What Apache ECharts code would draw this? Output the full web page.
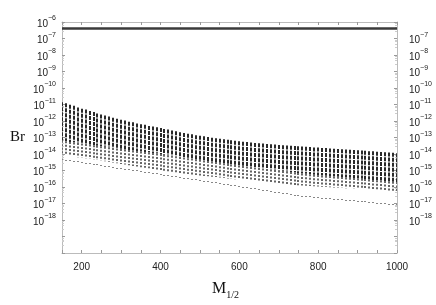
<!DOCTYPE html>
<html>
<head>
<meta charset="utf-8">
<script src="https://cdn.jsdelivr.net/npm/echarts@6/dist/echarts.min.js"></script>
<style>
html,body{margin:0;padding:0;background:#fff;}
#c{width:436px;height:305px;}
</style>
</head>
<body>
<div id="c"></div>
<script>
// M_1/2 sample points (GeV)
var mHalf = [150,160,170,180,190,200,210,220,230,240,250,260,270,280,290,300,310,320,330,340,350,360,370,380,390,400,410,420,430,440,450,460,470,480,490,500,510,520,530,540,550,560,570,580,590,600,610,620,630,640,650,660,670,680,690,700,710,720,730,740,750,760,770,780,790,800,810,820,830,840,850,860,870,880,890,900,910,920,930,940,950,960,970,980,990,1000];
// log10(Br): upper edge of scan points
var logTop = [-10.87,-10.93,-11.02,-11.08,-11.18,-11.25,-11.31,-11.40,-11.45,-11.55,-11.60,-11.66,-11.73,-11.80,-11.86,-11.92,-11.97,-12.04,-12.08,-12.15,-12.20,-12.23,-12.30,-12.34,-12.38,-12.42,-12.48,-12.52,-12.58,-12.62,-12.68,-12.72,-12.77,-12.81,-12.86,-12.90,-12.93,-12.97,-13.01,-13.04,-13.08,-13.11,-13.14,-13.17,-13.20,-13.23,-13.25,-13.28,-13.30,-13.33,-13.35,-13.37,-13.39,-13.41,-13.43,-13.45,-13.47,-13.48,-13.50,-13.52,-13.53,-13.55,-13.56,-13.58,-13.60,-13.61,-13.63,-13.64,-13.66,-13.68,-13.69,-13.71,-13.73,-13.74,-13.76,-13.78,-13.79,-13.81,-13.83,-13.84,-13.86,-13.88,-13.90,-13.91,-13.93,-13.95];
// log10(Br): lower edge of dense band
var logMid = [-13.20,-13.23,-13.27,-13.30,-13.34,-13.37,-13.40,-13.43,-13.47,-13.50,-13.53,-13.56,-13.59,-13.63,-13.66,-13.69,-13.72,-13.75,-13.79,-13.82,-13.85,-13.88,-13.91,-13.94,-13.97,-14.00,-14.04,-14.07,-14.11,-14.14,-14.18,-14.21,-14.25,-14.28,-14.32,-14.35,-14.39,-14.42,-14.46,-14.49,-14.53,-14.56,-14.60,-14.63,-14.67,-14.70,-14.73,-14.76,-14.79,-14.82,-14.85,-14.88,-14.91,-14.94,-14.97,-15.00,-15.03,-15.06,-15.09,-15.12,-15.15,-15.18,-15.20,-15.23,-15.25,-15.28,-15.30,-15.32,-15.34,-15.36,-15.38,-15.40,-15.42,-15.44,-15.46,-15.48,-15.50,-15.52,-15.55,-15.57,-15.59,-15.61,-15.63,-15.66,-15.68,-15.70];
// log10(Br): lower edge of sparse band
var logBot = [-14.05,-14.08,-14.12,-14.15,-14.19,-14.22,-14.26,-14.29,-14.33,-14.36,-14.40,-14.44,-14.48,-14.52,-14.56,-14.60,-14.64,-14.68,-14.72,-14.76,-14.80,-14.84,-14.87,-14.91,-14.94,-14.98,-15.01,-15.05,-15.08,-15.12,-15.15,-15.18,-15.21,-15.24,-15.27,-15.30,-15.33,-15.35,-15.38,-15.40,-15.43,-15.45,-15.48,-15.50,-15.53,-15.55,-15.57,-15.60,-15.62,-15.65,-15.67,-15.69,-15.71,-15.74,-15.76,-15.78,-15.80,-15.83,-15.85,-15.88,-15.90,-15.91,-15.93,-15.94,-15.96,-15.97,-15.98,-16.00,-16.01,-16.03,-16.04,-16.05,-16.07,-16.08,-16.10,-16.11,-16.12,-16.14,-16.15,-16.17,-16.18,-16.19,-16.21,-16.22,-16.24,-16.25];
// log10(Br): lowest isolated point
var logLow = [-14.30,-14.34,-14.37,-14.41,-14.44,-14.48,-14.52,-14.56,-14.59,-14.63,-14.67,-14.71,-14.75,-14.78,-14.82,-14.86,-14.90,-14.93,-14.97,-15.00,-15.04,-15.08,-15.11,-15.15,-15.18,-15.22,-15.26,-15.29,-15.33,-15.36,-15.40,-15.44,-15.47,-15.51,-15.54,-15.58,-15.62,-15.65,-15.69,-15.72,-15.76,-15.79,-15.83,-15.86,-15.90,-15.93,-15.97,-16.01,-16.04,-16.08,-16.12,-16.16,-16.20,-16.24,-16.28,-16.32,-16.36,-16.39,-16.43,-16.46,-16.50,-16.52,-16.55,-16.57,-16.60,-16.62,-16.64,-16.66,-16.68,-16.70,-16.72,-16.74,-16.76,-16.79,-16.81,-16.83,-16.85,-16.87,-16.90,-16.92,-16.94,-16.96,-16.98,-17.01,-17.03,-17.05];
// experimental bound line
var boundM = [150, 1000];
var boundBr = [4e-7, 4e-7];
var xLabelValues = [200, 400, 600, 800, 1000];

var colData = mHalf.map(function (m, i) {
  return [m, Math.pow(10, logTop[i]), Math.pow(10, logMid[i]), Math.pow(10, logBot[i]), Math.pow(10, logLow[i])];
});
var boundData = boundM.map(function (m, i) { return [m, boundBr[i]]; });

function expLabel(v) {
  var e = Math.round(Math.log10(v));
  return '{b|10}{s|\u2212' + (-e) + '}';
}
var rich = {
  b: {fontSize: 10, fontFamily: 'Liberation Sans', color: '#222', lineHeight: 14, verticalAlign: 'bottom'},
  s: {fontSize: 7, fontFamily: 'Liberation Sans', color: '#222', lineHeight: 8, verticalAlign: 'top'}
};

var chart = echarts.init(document.getElementById('c'), null, {renderer: 'canvas'});
var tickStyle = {show: true, inside: true, length: 3, lineStyle: {color: '#999'}};
var minorStyle = {show: true, splitNumber: 5, length: 2, lineStyle: {color: '#ccc'}};
chart.setOption({
  animation: false,
  backgroundColor: '#fff',
  grid: {left: 62, right: 39, top: 22, bottom: 49, containLabel: false},
  xAxis: [{
    type: 'value', min: 150, max: 1000, interval: 50, position: 'bottom',
    axisLine: {lineStyle: {color: '#bbb'}},
    axisTick: tickStyle,
    splitLine: {show: false},
    axisLabel: {
      margin: 9, fontSize: 10, fontFamily: 'Liberation Sans', color: '#222',
      formatter: function (v) { return xLabelValues.indexOf(v) >= 0 ? String(v) : ''; }
    },
    name: 'M{sub|1/2}', nameLocation: 'middle', nameGap: 25,
    nameTextStyle: {
      fontFamily: 'Liberation Serif', fontSize: 16, color: '#111', padding: [0, 8, 0, 0],
      rich: {sub: {fontFamily: 'Liberation Serif', fontSize: 10, color: '#111', verticalAlign: 'bottom', lineHeight: 22}}
    }
  }, {
    type: 'value', min: 150, max: 1000, interval: 50, position: 'top',
    axisLine: {lineStyle: {color: '#bbb'}},
    axisTick: tickStyle,
    splitLine: {show: false},
    axisLabel: {show: false}
  }],
  yAxis: [{
    type: 'log', logBase: 10, min: 1e-20, max: 1e-6, interval: 1, position: 'left',
    axisLine: {show: true, lineStyle: {color: '#bbb'}},
    axisTick: tickStyle,
    minorTick: minorStyle,
    splitLine: {show: false},
    axisLabel: {
      margin: 6,
      formatter: function (v) { var e = Math.round(Math.log10(v)); return (e < -18) ? '' : expLabel(v); },
      rich: rich
    },
    name: 'Br', nameLocation: 'middle', nameRotate: 0, nameGap: 37,
    nameTextStyle: {fontFamily: 'Liberation Serif', fontSize: 15, color: '#111'}
  }, {
    type: 'log', logBase: 10, min: 1e-20, max: 1e-6, interval: 1, position: 'right',
    axisLine: {show: true, lineStyle: {color: '#bbb'}},
    axisTick: tickStyle,
    minorTick: minorStyle,
    splitLine: {show: false},
    axisLabel: {
      margin: 12,
      formatter: function (v) { var e = Math.round(Math.log10(v)); return (e < -18 || e > -7) ? '' : expLabel(v); },
      rich: rich
    }
  }],
  series: [{
    type: 'custom',
    xAxisIndex: 0, yAxisIndex: 0,
    clip: true,
    data: colData,
    encode: {x: 0, y: [1, 2, 3, 4]},
    renderItem: function (params, api) {
      var m = api.value(0);
      var pTop = api.coord([m, api.value(1)]);
      var pMid = api.coord([m, api.value(2)]);
      var pBot = api.coord([m, api.value(3)]);
      var pLow = api.coord([m, api.value(4)]);
      var x = Math.round(pTop[0]);
      return {
        type: 'group',
        children: [{
          type: 'line',
          shape: {x1: x, y1: pTop[1], x2: x, y2: pMid[1]},
          style: {stroke: '#2a2a2a', lineWidth: 2, lineDash: [4, 1]}
        }, {
          type: 'line',
          shape: {x1: x, y1: pMid[1], x2: x, y2: pBot[1]},
          style: {stroke: '#666', lineWidth: 2, lineDash: [2, 1.5]}
        }, {
          type: 'rect',
          shape: {x: x - 1, y: Math.round(pLow[1]), width: 2, height: 1},
          style: {fill: '#888'}
        }]
      };
    }
  }, {
    type: 'line',
    xAxisIndex: 0, yAxisIndex: 0,
    data: boundData,
    symbol: 'none',
    lineStyle: {color: '#3a3a3a', width: 2.5}
  }]
});
</script>
</body>
</html>
